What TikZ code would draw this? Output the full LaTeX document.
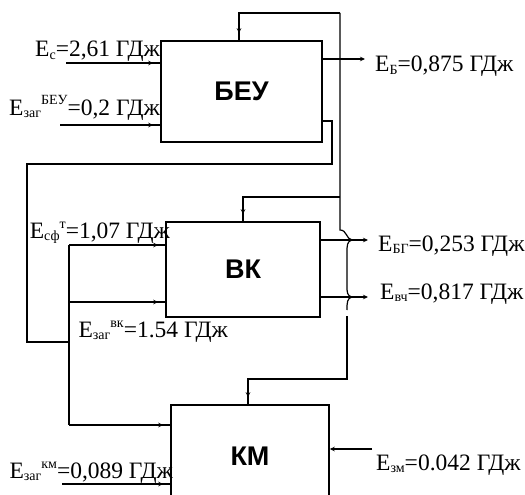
\documentclass[tikz,border=0pt]{standalone}
\usepackage{fontspec}
\setmainfont{Liberation Serif}
\newfontfamily\boxfont{Liberation Sans}
\usetikzlibrary{arrows.meta,decorations.markings}
\newcommand\lo[1]{\raisebox{-2pt}{\fontsize{14}{14}\selectfont #1}}
\newcommand\hi[1]{\raisebox{10pt}{\fontsize{14}{14}\selectfont #1}}
\tikzset{
  blk/.style={draw, line width=1.5pt, inner sep=0pt, font=\boxfont\bfseries\fontsize{27}{27}\selectfont},
  ln/.style={line width=1.2pt},
  arr/.style={ln, postaction={decorate}, decoration={markings, mark=at position -7pt with {\arrow{Stealth[length=5pt,width=4.5pt]}}}},
  endarr/.style={ln, -{Stealth[length=5pt,width=4.5pt]}},
  lbl/.style={inner sep=0pt, font=\fontsize{23.5}{25}\selectfont},
}
\begin{document}
\begin{tikzpicture}[x=1pt,y=-1pt]
\useasboundingbox (0,0) rectangle (525,495);
\clip (0,0) rectangle (525,495);
% blocks
\node[blk, minimum width=161pt, minimum height=101pt] (beu) at (241.5,91.5) {БЕУ};
\node[blk, minimum width=154pt, minimum height=95pt] (vk) at (243,269.5) {ВК};
\node[blk, minimum width=158pt, minimum height=102pt] (km) at (250,456) {КМ};
% inputs to BEU
\coordinate (ecS) at (66,63);
\coordinate (ezS) at (60,125);
\draw[arr] (ecS) -- (ecS -| beu.west);
\draw[arr] (ezS) -- (ezS -| beu.west);
% top loop
\coordinate (tl) at (239,13);
\coordinate (tr) at (340,13);
\draw[arr] (tr) -- (tl) -- (tl |- beu.north);
\draw[ln] (tr) -- (340,230) .. controls (347,230) and (346,239) .. (352,240)
  .. controls (347,241) and (347,246) .. (347,252) -- (347,286)
  .. controls (347,292) and (347,296) .. (352,297)
  .. controls (347,298) and (347,303) .. (347,310);
\coordinate (kmc) at (347,379);
\coordinate (kmt) at (248,379);
\draw[arr] (347,316) -- (kmc) -- (kmt) -- (kmt |- km.north);
% branch to VK top
\coordinate (vb) at (340,197);
\coordinate (vbl) at (243,197);
\draw[arr] (vb) -- (vbl) -- (vbl |- vk.north);
% feedback from BEU right side
\coordinate (f1) at (332,121);
\coordinate (f2) at (332,164);
\coordinate (f3) at (27,164);
\coordinate (f4) at (27,342);
\coordinate (f5) at (69,342);
\draw[ln] (beu.east |- f1) -- (f1) -- (f2) -- (f3) -- (f4) -- (f5);
% bus
\coordinate (b1) at (69,245);
\coordinate (b2) at (69,302);
\coordinate (b3) at (69,425);
\draw[ln] (b1) -- (b3);
\draw[arr] (b1) -- (b1 -| vk.west);
\draw[arr] (b2) -- (b2 -| vk.west);
\draw[arr] (b3) -- (b3 -| km.west);
% KM input
\coordinate (kz) at (62,484);
\draw[arr] (kz) -- (kz -| km.west);
% outputs
\coordinate (ob) at (365,59);
\coordinate (og) at (368,240);
\coordinate (ov) at (368,297);
\coordinate (oz) at (372,449);
\draw[endarr] (ob -| beu.east) -- (ob);
\draw[endarr] (og -| vk.east) -- (og);
\draw[endarr] (ov -| vk.east) -- (ov);
\draw[endarr] (oz) -- (oz -| km.east);
% labels
\node[lbl, anchor=base east] (l1) at (160,57) {E\lo{с}=2,61 ГДж};
\node[lbl, anchor=base east] (l2) at (160,115) {E\lo{заг}\hi{БЕУ}=0,2 ГДж};
\node[lbl, anchor=base east] (l3) at (170,238) {E\lo{сф}\hi{т}=1,07 ГДж};
\node[lbl, anchor=base east] (l4) at (228,337) {E\lo{заг}\hi{вк}=1.54 ГДж};
\node[lbl, anchor=base east] (l5) at (173,478) {E\lo{заг}\hi{км}=0,089 ГДж};
\node[lbl, anchor=base west] (l6) at (375,72) {E\lo{Б}=0,875 ГДж};
\node[lbl, anchor=base west] (l7) at (378,251) {E\lo{БГ}=0,253 ГДж};
\node[lbl, anchor=base west] (l8) at (380,299) {E\lo{вч}=0,817 ГДж};
\node[lbl, anchor=base west] (l9) at (376,470) {E\lo{зм}=0.042 ГДж};
\end{tikzpicture}
\end{document}
